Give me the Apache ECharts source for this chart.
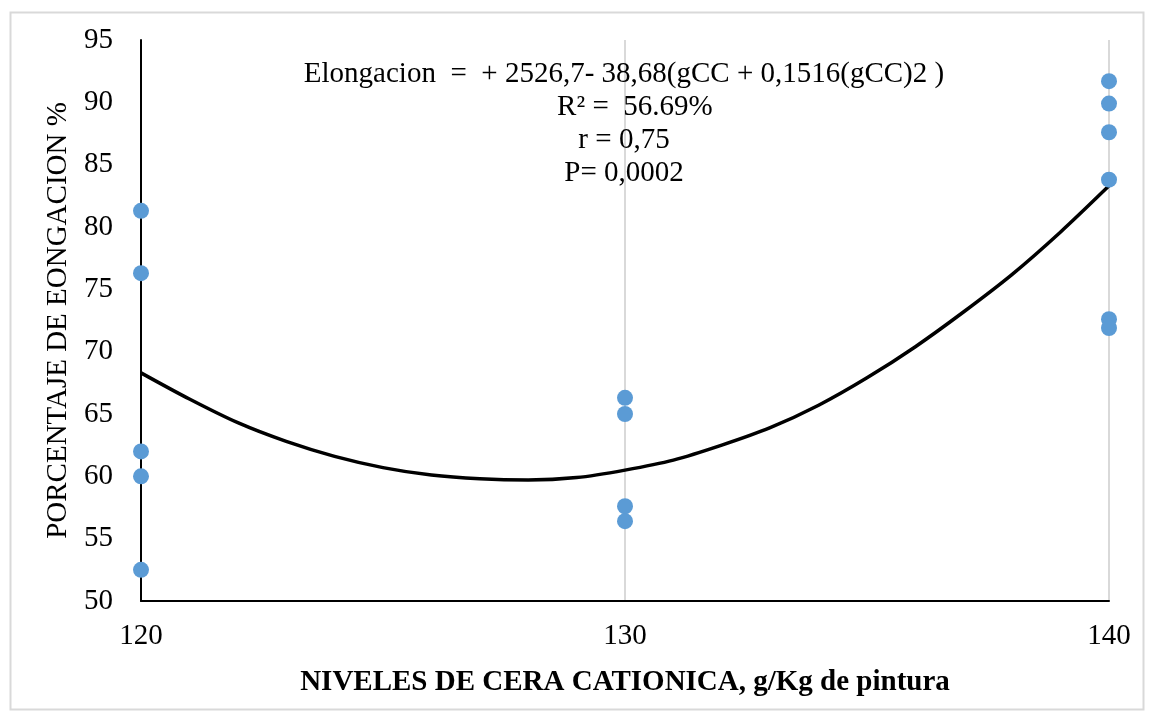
<!DOCTYPE html>
<html>
<head>
<meta charset="utf-8">
<title>Elongacion vs cera cationica</title>
<script src="https://cdn.jsdelivr.net/npm/echarts@6/dist/echarts.min.js"></script>
<style>
  html, body { margin: 0; padding: 0; background: #fff; }
  #chart { width: 1149px; height: 717px; }
</style>
</head>
<body>
<div id="chart"></div>
<script>
// observed values per wax level
const level120 = [81.3, 76.3, 62.0, 60.0, 52.5];
const level130 = [66.3, 65.0, 57.6, 56.4];
const level140 = [91.7, 89.9, 87.6, 83.8, 72.6, 71.9];

// trend curve
const trendX = [120, 121, 122, 123, 124, 125, 126, 127, 128, 129, 130,
                131, 132, 133, 134, 135, 136, 137, 138, 139, 140];
const trendY = [68.3, 66.2, 64.3, 62.8, 61.6, 60.7, 60.1, 59.8, 59.7, 59.9, 60.5,
                61.3, 62.5, 63.9, 65.7, 67.9, 70.4, 73.2, 76.2, 79.6, 83.3];

const xTicks = [120, 130, 140];
const yTicks = [50, 55, 60, 65, 70, 75, 80, 85, 90, 95];

const annotationLines = [
  'Elongacion  =  + 2526,7- 38,68(gCC + 0,1516(gCC)2 )',
  '   R² =  56.69%',
  'r = 0,75',
  'P= 0,0002'
];

const points = [];
level120.forEach(v => points.push([120, v]));
level130.forEach(v => points.push([130, v]));
level140.forEach(v => points.push([140, v]));

const trend = trendX.map((x, i) => [x, trendY[i]]);

const serif = '"Liberation Serif", "DejaVu Serif", serif';

const chart = echarts.init(document.getElementById('chart'));

chart.setOption({
  animation: false,
  backgroundColor: '#fff',
  grid: { left: 141, right: 40, top: 40, bottom: 116 },
  xAxis: {
    type: 'value',
    min: xTicks[0],
    max: xTicks[xTicks.length - 1],
    interval: 10,
    name: 'NIVELES DE CERA CATIONICA, g/Kg de pintura',
    nameLocation: 'middle',
    nameGap: 67,
    nameTextStyle: { fontFamily: serif, fontSize: 29, fontWeight: 'bold', color: '#000' },
    axisLine: { lineStyle: { color: '#000', width: 2 } },
    axisTick: { show: false },
    axisLabel: { fontFamily: serif, fontSize: 29, color: '#000', margin: 21 },
    splitLine: { show: true, lineStyle: { color: '#d9d9d9', width: 2 } }
  },
  yAxis: {
    type: 'value',
    min: yTicks[0],
    max: yTicks[yTicks.length - 1],
    interval: 5,
    name: 'PORCENTAJE DE EONGACION %',
    nameLocation: 'middle',
    nameGap: 66,
    nameTextStyle: { fontFamily: serif, fontSize: 29, color: '#000' },
    axisLine: { show: true, lineStyle: { color: '#000', width: 2 } },
    axisTick: { show: false },
    axisLabel: { fontFamily: serif, fontSize: 29, color: '#000', margin: 28 },
    splitLine: { show: false }
  },
  series: [
    {
      name: 'Tendencia',
      type: 'line',
      data: trend,
      smooth: 0.3,
      showSymbol: false,
      lineStyle: { color: '#000', width: 3.5 },
      z: 2
    },
    {
      name: 'Elongacion',
      type: 'scatter',
      data: points,
      symbolSize: 16,
      itemStyle: { color: '#5b9bd5', opacity: 1 },
      z: 3
    }
  ],
  graphic: [
    {
      type: 'rect',
      left: 8,
      top: 10,
      shape: { width: 1133, height: 697 },
      style: { fill: 'none', stroke: '#d9d9d9', lineWidth: 2 },
      silent: true
    },
    {
      type: 'text',
      x: 624,
      y: 58,
      style: {
        text: annotationLines.join('\n'),
        fontFamily: serif,
        fontSize: 29,
        lineHeight: 33,
        fill: '#000',
        align: 'center'
      },
      z: 10
    }
  ]
});
</script>
</body>
</html>
